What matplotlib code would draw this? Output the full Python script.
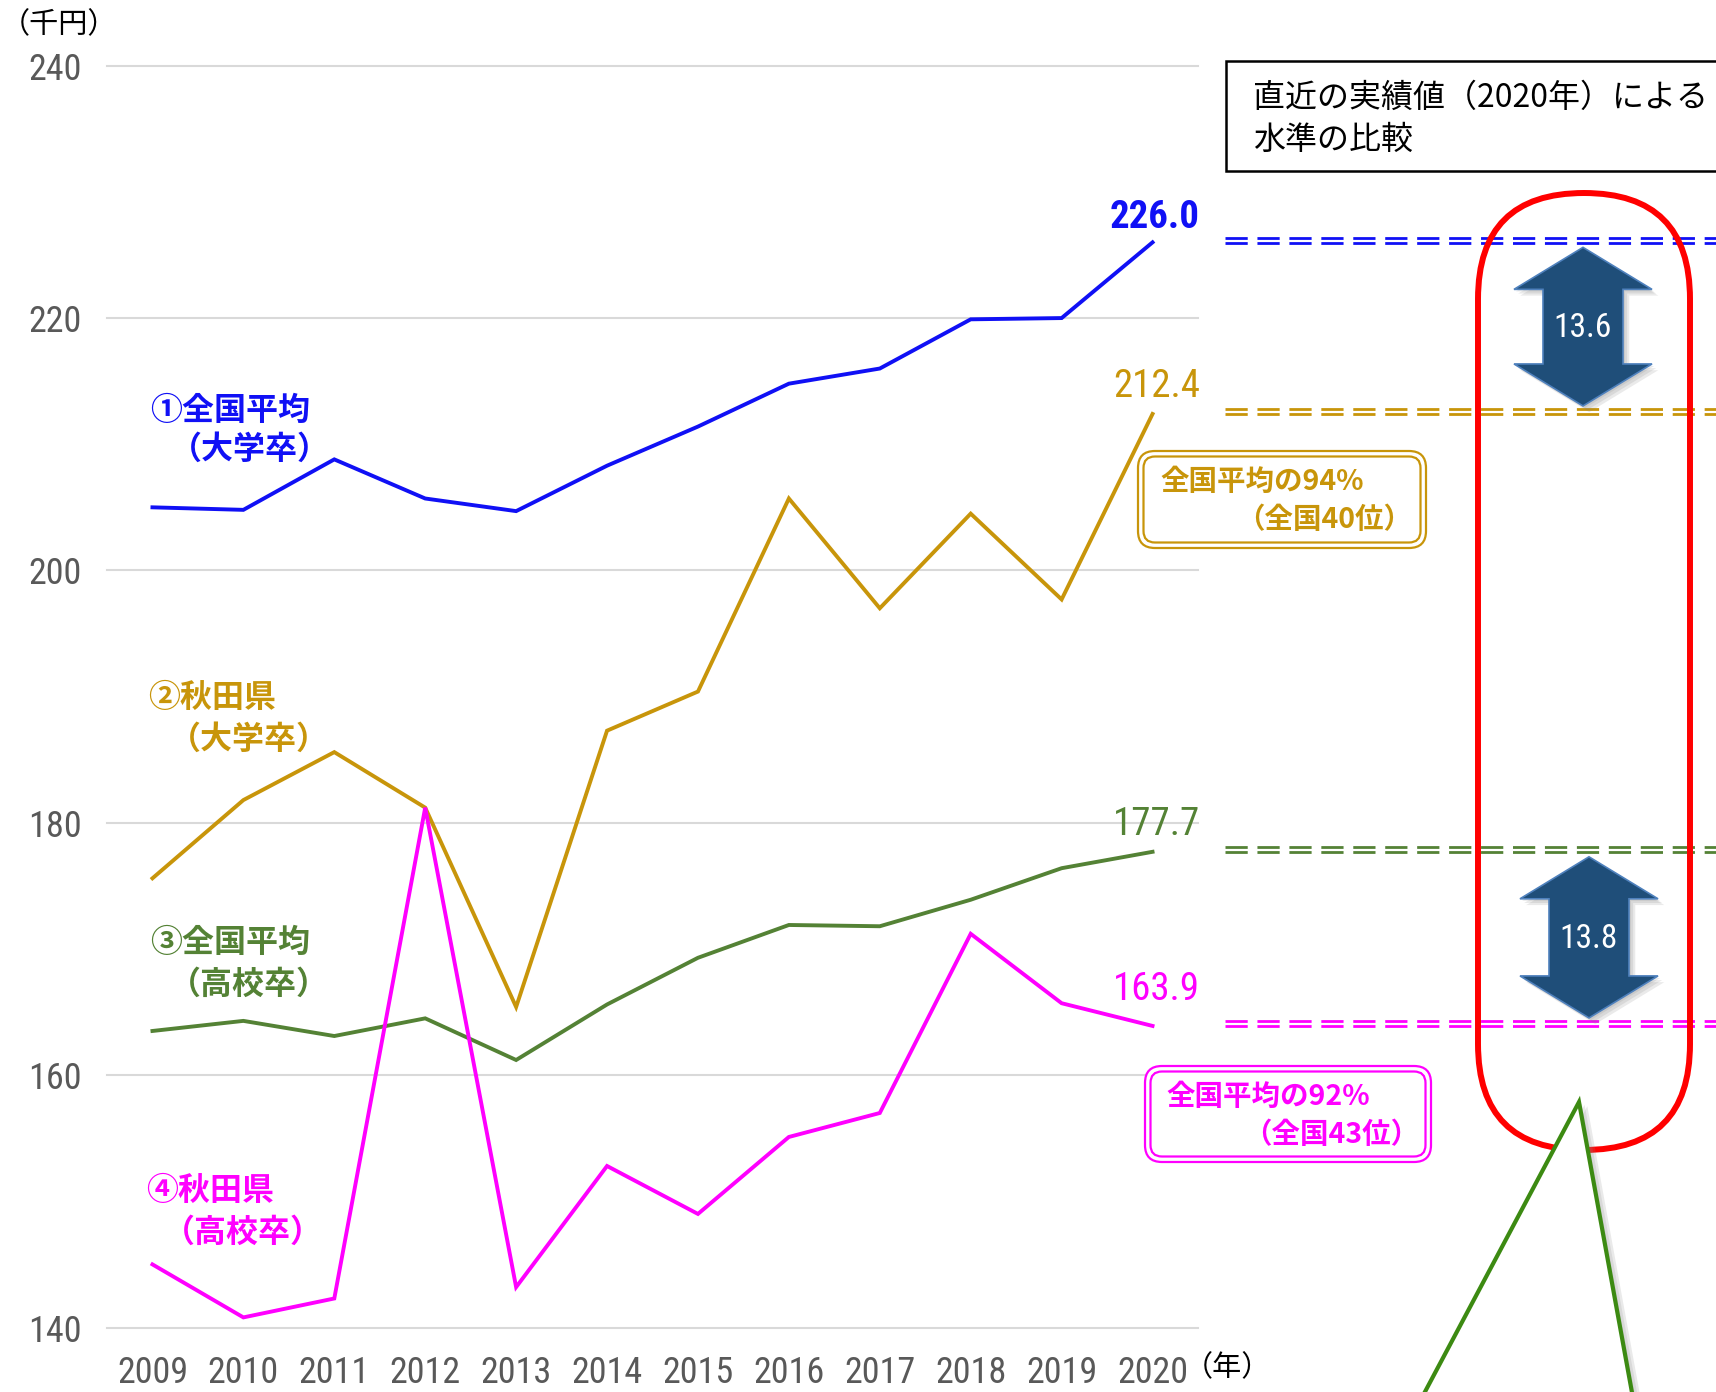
import matplotlib
matplotlib.use("Agg")
import matplotlib.pyplot as plt
import matplotlib.patheffects as pe
from matplotlib import font_manager
from matplotlib.patches import FancyBboxPatch, Polygon, Rectangle

# --- data (千円) -------------------------------------------------------------
years = list(range(2009, 2021))
national_univ = [205.0, 204.8, 208.8, 205.7, 204.7, 208.3, 211.4, 214.8, 216.0, 219.9, 220.0, 226.0]
akita_univ = [175.6, 181.8, 185.6, 181.2, 165.4, 187.3, 190.4, 205.7, 197.0, 204.5, 197.7, 212.4]
national_high = [163.5, 164.3, 163.1, 164.5, 161.2, 165.6, 169.3, 171.9, 171.8, 173.9, 176.4, 177.7]
akita_high = [145.0, 140.8, 142.3, 181.2, 143.2, 152.8, 149.0, 155.1, 157.0, 171.2, 165.7, 163.9]

label_line1 = ["①全国平均", "②秋田県", "③全国平均", "④秋田県"]
label_line2 = ["（大学卒）", "（大学卒）", "（高校卒）", "（高校卒）"]
yticks = [140, 160, 180, 200, 220, 240]
ratio_text = ["全国平均の94%", "全国平均の92%"]
rank_text = ["（全国40位）", "（全国43位）"]
title_lines = ["直近の実績値（2020年）による", "水準の比較"]

# --- style ------------------------------------------------------------------
colors = ["#1010F5", "#C8950A", "#548235", "#FF00FF"]
W, H, DPI = 1716, 1392, 100

names = {f.name for f in font_manager.fontManager.ttflist}
NUM_FONT = next((n for n in ["Roboto Condensed", "Archivo Narrow", "PT Sans Narrow",
                             "Barlow Condensed", "Open Sans Condensed", "Liberation Sans Narrow"]
                 if n in names), "Liberation Sans")
JP_FONT = "Noto Sans CJK JP"
plt.rcParams["font.family"] = [JP_FONT, "DejaVu Sans"]
plt.rcParams["lines.scale_dashes"] = False

fig = plt.figure(figsize=(W / DPI, H / DPI), dpi=DPI, facecolor="white")
ax = fig.add_axes([107 / W, 1 - 1327.5 / H, (1198 - 107) / W, (1327.5 - 65.7) / H])
ax.set_xlim(2008.5, 2020.5)
ax.set_ylim(140, 240)
for s in ax.spines.values():
    s.set_visible(False)
ax.set_yticks(yticks)
ax.set_yticklabels([str(t) for t in yticks], fontfamily=NUM_FONT, fontsize=26, color="#595959")
ax.set_xticks(years)
ax.set_xticklabels([str(y) for y in years], fontfamily=NUM_FONT, fontsize=26, color="#595959")
ax.tick_params(axis="y", length=0, pad=18)
ax.tick_params(axis="x", length=0, pad=20)
ax.grid(axis="y", color="#D9D9D9", linewidth=1.5)
ax.set_axisbelow(True)
for gl in ax.get_ygridlines():
    gl.set_clip_on(False)

series = [national_univ, akita_univ, national_high, akita_high]
for vals, c in zip(series, colors):
    ax.plot(years, vals, color=c, linewidth=2.8, solid_joinstyle="miter", zorder=3)

# end-of-line value labels (offsets in points from the 2020 point)
end_offsets = [(34, 18), (34, 20), (34, 20), (34, 26)]
for i, (vals, c) in enumerate(zip(series, colors)):
    ax.annotate(f"{vals[-1]:.1f}", xy=(years[-1], vals[-1]), xytext=end_offsets[i],
                textcoords="offset points", ha="right", va="center", color=c,
                fontfamily=NUM_FONT, fontsize=28,
                fontweight="bold" if i == 0 else "normal", annotation_clip=False)

# overlay in pixel coordinates for the annotations
ov = fig.add_axes([0, 0, 1, 1])
ov.set_xlim(0, W)
ov.set_ylim(H, 0)
ov.axis("off")


def to_px(x, v):
    X, Y = ax.transData.transform((x, v))
    return X, H - Y


# axis unit labels
ov.text(1, 25, "（千円）", fontsize=21, va="center", ha="left", color="black")
ov.text(1184, 1368, "（年）", fontsize=21, va="center", ha="left", color="black")

# series labels
label_pos = [(150, 411, 170, 450), (148, 698, 169, 740), (150, 943, 169, 985), (146, 1191, 163, 1233)]
for (x1, y1, x2, y2), t1, t2, c in zip(label_pos, label_line1, label_line2, colors):
    ov.text(x1, y1, t1, fontsize=23, fontweight="bold", color=c, va="center", ha="left")
    ov.text(x2, y2, t2, fontsize=23, fontweight="bold", color=c, va="center", ha="left")

# title box
ov.add_patch(Rectangle((1226, 61), 600, 110, facecolor="white", edgecolor="black",
                       linewidth=1.8, clip_on=False, zorder=2))
ov.text(1253, 98, title_lines[0], fontsize=23, va="center", ha="left", color="black", zorder=3)
ov.text(1253, 140, title_lines[1], fontsize=23, va="center", ha="left", color="black", zorder=3)

# double dashed reference lines at 2020 levels
for vals, c in zip(series, colors):
    _, yp = to_px(years[-1], vals[-1])
    for dy in (-4.5, 0.5):
        ov.plot([1225, W + 10], [yp + dy, yp + dy], color=c, linewidth=2.0,
                dashes=(16, 7), clip_on=False, zorder=2, dash_capstyle="butt")

# red stadium outline
ov.add_patch(FancyBboxPatch((1478, 193), 212, 957, boxstyle="round,pad=0,rounding_size=106",
                            facecolor="none", edgecolor="#FF0000", linewidth=4.3,
                            clip_on=False, zorder=3))


def block_arrow(cx, y_top, y_bot, head_w=69, shaft_w=40, head_len=42):
    return [(cx, y_top), (cx + head_w, y_top + head_len), (cx + shaft_w, y_top + head_len),
            (cx + shaft_w, y_bot - head_len), (cx + head_w, y_bot - head_len), (cx, y_bot),
            (cx - head_w, y_bot - head_len), (cx - shaft_w, y_bot - head_len),
            (cx - shaft_w, y_top + head_len), (cx - head_w, y_top + head_len)]


soft_shadow = [pe.SimplePatchShadow(offset=(k, -k), shadow_rgbFace="#7F7F7F", alpha=0.16)
               for k in (1.5, 3, 4.5)] + [pe.Normal()]
for (hi, lo), cx in zip([(national_univ, akita_univ), (national_high, akita_high)], [1583, 1589]):
    _, y_hi = to_px(years[-1], hi[-1])
    _, y_lo = to_px(years[-1], lo[-1])
    arrow = Polygon(block_arrow(cx, y_hi + 5, y_lo - 8), closed=True, facecolor="#1F4E79",
                    edgecolor="#4F81BD", linewidth=1.2, clip_on=False, zorder=4,
                    path_effects=soft_shadow)
    ov.add_patch(arrow)
    ov.text(cx, (y_hi + y_lo) / 2, f"{hi[-1] - lo[-1]:.1f}", color="white", fontfamily=NUM_FONT,
            fontsize=24, ha="center", va="center", zorder=5)

# callout boxes with double borders
callouts = [(1138, 451, 1426, 548), (1145, 1066, 1431, 1162)]
text_pos = [(1160, 482, 1236, 520), (1166, 1097, 1243, 1135)]
for (x0, y0, x1, y1), (tx1, ty1, tx2, ty2), t1, t2, c in zip(
        callouts, text_pos, ratio_text, rank_text, [colors[1], colors[3]]):
    for inset, fc in ((0, "white"), (5.5, "none")):
        ov.add_patch(FancyBboxPatch((x0 + inset, y0 + inset), x1 - x0 - 2 * inset, y1 - y0 - 2 * inset,
                                    boxstyle=f"round,pad=0,rounding_size={17 - inset}",
                                    facecolor=fc, edgecolor=c, linewidth=1.6,
                                    clip_on=False, zorder=4))
    ov.text(tx1, ty1, t1, fontsize=20.5, fontweight="bold", color=c, va="center", ha="left", zorder=5)
    ov.text(tx2, ty2, t2, fontsize=20.5, fontweight="bold", color=c, va="center", ha="left", zorder=5)

# green callout pointer
tri_shadow = [pe.SimplePatchShadow(offset=(k, -k / 2), shadow_rgbFace="#8C8C8C", alpha=0.18)
              for k in (2, 4, 6)] + [pe.Normal()]
ov.add_patch(Polygon([(1579, 1102), (1637, 1420), (1410, 1420)], closed=True, facecolor="white",
                     edgecolor="#3C8A12", linewidth=3, clip_on=False, zorder=6,
                     joinstyle="miter", path_effects=tri_shadow))

fig.savefig("out.png", dpi=DPI, facecolor="white")
